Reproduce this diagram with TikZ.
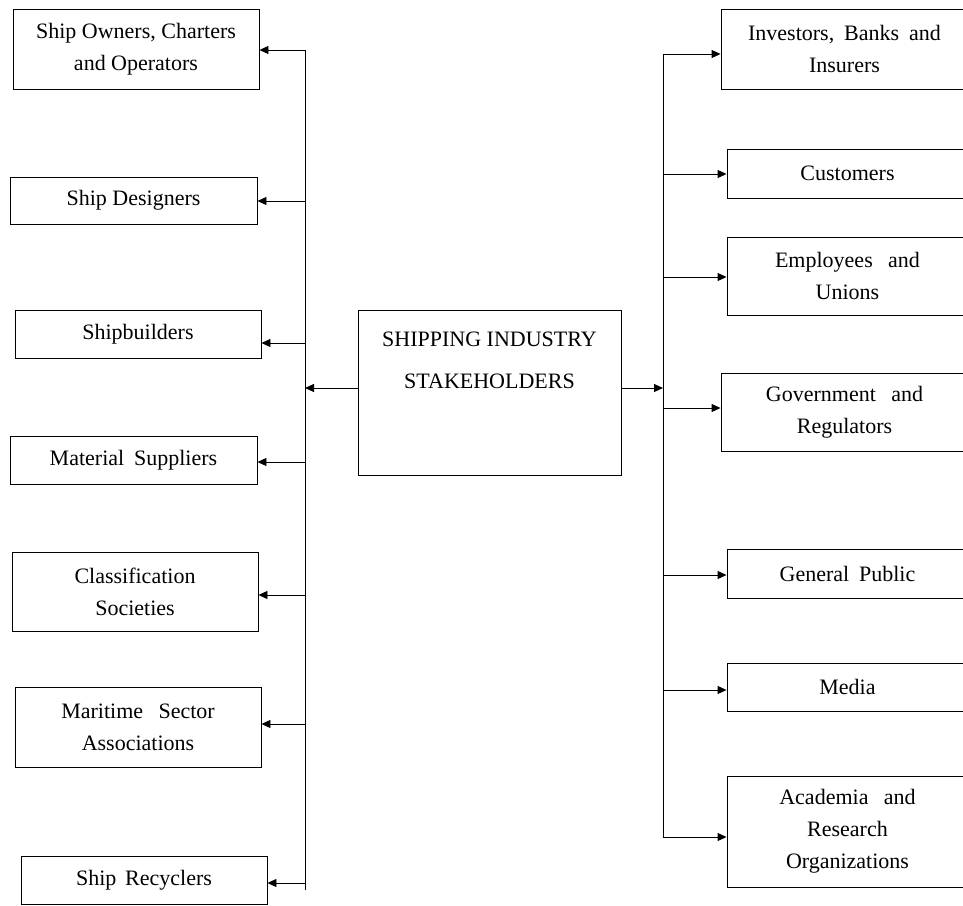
\documentclass[tikz,border=0pt]{standalone}
\usepackage{fontspec}
\setmainfont{Liberation Serif}
\usetikzlibrary{arrows.meta}
% wider word gap used in a few justified labels
\newcommand{\wgap}{\hspace{0.7em}}
\begin{document}
\begin{tikzpicture}[x=1pt,y=-1pt,
  box/.style={draw, line width=0.9pt, inner sep=0pt, align=center,
              font=\fontsize{22}{32}\selectfont},
  arr/.style={line width=0.9pt, -{Triangle[length=9pt,width=8pt]}},
  spine/.style={line width=0.9pt}]
\clip (0,0) rectangle (963,905);

% central hub
\node[draw, line width=0.9pt, minimum width=263pt, minimum height=165pt, inner sep=0pt]
  (hub) at (489.5,392.5) {};
\node[align=center, inner sep=0pt, font=\fontsize{22}{42}\selectfont]
  (hubtext) at (489.5,360) {SHIPPING INDUSTRY\\STAKEHOLDERS};

% left-hand stakeholders
\node[box, minimum width=246pt, minimum height=80pt] (o1) at (136,49) {Ship Owners, Charters\\and Operators};
\node[box, minimum width=247pt, minimum height=47pt] (o2) at (133.5,200.5) {Ship Designers};
\node[box, minimum width=246pt, minimum height=48pt] (o3) at (138,334) {Shipbuilders};
\node[box, minimum width=247pt, minimum height=48pt] (o4) at (133.5,460) {Material\hspace{0.45em}Suppliers};
\node[box, minimum width=246pt, minimum height=79pt] (o5) at (135,591.5) {Classification\\Societies};
\node[box, minimum width=246pt, minimum height=80pt] (o6) at (138,727) {Maritime\wgap Sector\\Associations};
\node[box, minimum width=246pt, minimum height=48pt] (o7) at (144,880) {Ship\hspace{0.4em}Recyclers};

% right-hand stakeholders
\node[box, minimum width=247pt, minimum height=80pt] (r1) at (844.5,49) {Investors,\hspace{0.45em}Banks\hspace{0.45em}and\\Insurers};
\node[box, minimum width=241pt, minimum height=49pt] (r2) at (847.5,173.5) {Customers};
\node[box, minimum width=241pt, minimum height=78pt] (r3) at (847.5,276) {Employees\wgap and\\Unions};
\node[box, minimum width=247pt, minimum height=78pt] (r4) at (844.5,412) {Government\wgap and\\Regulators};
\node[box, minimum width=241pt, minimum height=49pt] (r5) at (847.5,573.5) {General\hspace{0.45em}Public};
\node[box, minimum width=241pt, minimum height=48pt] (r6) at (847.5,687) {Media};
\node[box, minimum width=241pt, minimum height=111pt] (r7) at (847.5,831.5) {Academia\wgap and\\Research\\Organizations};

% left spine and its branches
\coordinate (ltop) at (305,50);
\coordinate (lbot) at (305,890);
\draw[spine] (ltop) -- (lbot);
\coordinate (l1) at (305,50);
\coordinate (l2) at (305,201);
\coordinate (l3) at (305,343);
\coordinate (l4) at (305,462);
\coordinate (l5) at (305,595);
\coordinate (l6) at (305,724);
\coordinate (l7) at (305,883);
\foreach \i in {1,...,7} {
  \draw[arr] (l\i) -- (l\i -| o\i.east);
}

% right spine and its branches
\coordinate (rtop) at (663,54);
\coordinate (rbot) at (663,837);
\draw[spine] (rtop) -- (rbot);
\coordinate (s1) at (663,54);
\coordinate (s2) at (663,174);
\coordinate (s3) at (663,277);
\coordinate (s4) at (663,408);
\coordinate (s5) at (663,575);
\coordinate (s6) at (663,690);
\coordinate (s7) at (663,837);
\foreach \i in {1,...,7} {
  \draw[arr] (s\i) -- (s\i -| r\i.west);
}

% hub to both spines
\coordinate (hl) at (305,388);
\coordinate (hr) at (663,388);
\draw[arr] (hl -| hub.west) -- (hl);
\draw[arr] (hr -| hub.east) -- (hr);
\end{tikzpicture}
\end{document}
